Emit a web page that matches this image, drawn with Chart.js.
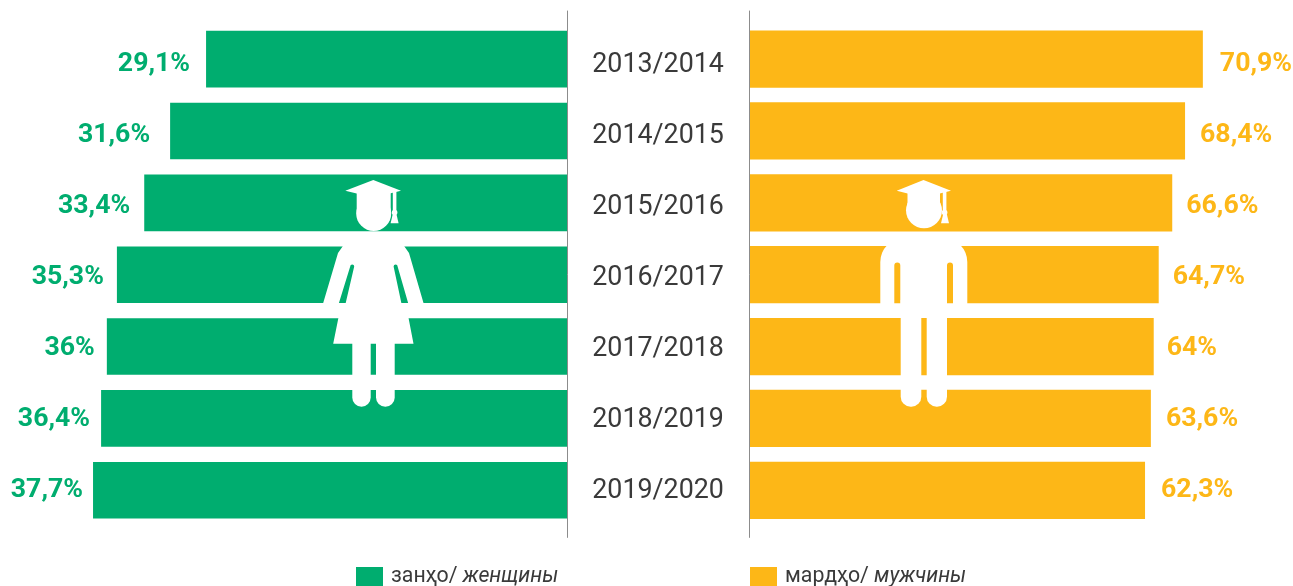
<!DOCTYPE html>
<html><head><meta charset="utf-8">
<script src="https://cdn.jsdelivr.net/npm/chart.js@4"></script>
<style>
html,body{margin:0;padding:0;background:#fff;width:1293px;height:586px;overflow:hidden;position:relative}
canvas{position:absolute;top:0}
.sw{position:absolute;top:567px;width:27px;height:19px}
.lg{position:absolute;top:562px;font:21.3px Roboto,sans-serif;color:#3a3a3a;white-space:nowrap}
.lg i{font-style:italic}
</style></head><body>
<canvas id="L" width="748" height="586" style="left:0"></canvas>
<canvas id="R" width="545" height="586" style="left:748px"></canvas>
<div class="sw" style="left:356px;background:#00AD6F"></div><div class="lg" style="left:391px">занҳо/ <i>женщины</i></div>
<div class="sw" style="left:750px;background:#FDB717"></div><div class="lg" style="left:785px">мардҳо/ <i>мужчины</i></div>
<script>
const years = ["2013/2014","2014/2015","2015/2016","2016/2017","2017/2018","2018/2019","2019/2020"];
const womenLabels = ["29,1%","31,6%","33,4%","35,3%","36%","36,4%","37,7%"];
const menLabels = ["70,9%","68,4%","66,6%","64,7%","64%","63,6%","62,3%"];
// Bar lengths as drawn in the reference. The last row's bars are drawn shorter
// (women) and longer (men) than their printed labels, so lengths and labels are kept apart.
const womenBars = [29.1,31.6,33.4,35.3,36,36.4,36.96];
const menBars = [70.9,68.4,66.6,64.7,64,63.6,62.78];
const GREEN="#00AD6F", YELLOW="#FDB717", FONT="Roboto, sans-serif";
// The reference's texts are hand-placed: rows run a little tighter than the bars,
// and the gap between a bar and its label varies.
const rowShift = i => 5.9 - 0.8*i;
const womenGaps = [16,20,14,13,12,11,10];
const menGaps = [17,15,14,14,13,15,16];

function axisLine(ctx,x,a){ctx.save();ctx.strokeStyle="#8c8c8c";ctx.lineWidth=1;ctx.beginPath();ctx.moveTo(x,a.top-12.6);ctx.lineTo(x,a.bottom+11.6);ctx.stroke();ctx.restore();}
function valueLabels(chart,texts,gaps,color,side){
  const c=chart.ctx;c.save();c.fillStyle=color;c.font="bold 26.7px "+FONT;c.textBaseline="middle";c.textAlign=side<0?"right":"left";
  chart.getDatasetMeta(0).data.forEach((b,i)=>c.fillText(texts[i],b.x+side*gaps[i],b.y+rowShift(i)-1));c.restore();
}
function drawCap(c,cx,l,r,strX,tasX,headL,headR){
  c.beginPath();c.moveTo(cx,180);c.lineTo(r,190.7);c.lineTo(cx,197.5);c.lineTo(l,190.7);c.closePath();c.fill();
  c.fillRect(strX,190,3.6,23);
  c.beginPath();c.arc(strX+1.8,212.5,2.8,0,7);c.fill();
  c.beginPath();c.moveTo(tasX-1.8,214);c.lineTo(tasX+1.8,214);c.lineTo(tasX+4,223.3);c.lineTo(tasX-4,223.3);c.closePath();c.fill();
  c.fillRect(headL,193,headR-headL,20);
}
const womanIcon={id:"w",afterDatasetsDraw(ch){
  const c=ch.ctx;c.save();c.fillStyle="#fff";
  drawCap(c,373.3,345.3,401,392.8,394.6,356.7,390.7);
  c.beginPath();c.arc(373.7,213.5,17.5,0,7);c.fill();
  c.beginPath();
  c.moveTo(345,243);c.lineTo(402,243);c.lineTo(409,253);c.lineTo(423.5,303);c.lineTo(426,310);c.lineTo(407,310);
  c.lineTo(413.5,343.7);c.lineTo(333.2,343.7);c.lineTo(340,310);c.lineTo(321,310);c.lineTo(323.2,303);c.lineTo(338,253);c.closePath();
  c.moveTo(350.2,266.5);c.arc(352.2,266.5,2,Math.PI,0);c.lineTo(345,306);c.lineTo(338,306);c.closePath();
  c.moveTo(393.6,266.5);c.arc(395.6,266.5,2,Math.PI,0);c.lineTo(409,306);c.lineTo(402,306);c.closePath();
  c.fill("evenodd");
  c.beginPath();c.roundRect(352.3,335,18.4,71.7,[0,0,9.2,9.2]);c.fill();
  c.beginPath();c.roundRect(376,335,18.7,71.7,[0,0,9.3,9.3]);c.fill();
  c.restore();
}};
const manIcon={id:"m",afterDatasetsDraw(ch){
  const c=ch.ctx;c.save();c.translate(-748,0);c.fillStyle="#fff";
  drawCap(c,923.5,896.7,951,942.8,945,907.5,940);
  c.beginPath();c.arc(924,210.3,18,0,7);c.fill();
  c.beginPath();c.roundRect(880.3,238,87,72,[24,24,0,0]);
  c.moveTo(894.3,265.5);c.arc(897.3,265.5,3,Math.PI,0);c.lineTo(900.3,308);c.lineTo(894.3,308);c.closePath();
  c.moveTo(947,265.5);c.arc(950,265.5,3,Math.PI,0);c.lineTo(953,308);c.lineTo(947,308);c.closePath();
  c.fill("evenodd");
  c.fillRect(900.7,300,46.3,18);
  c.beginPath();c.roundRect(900.7,310,20.6,96.7,[0,0,10,10]);c.fill();
  c.beginPath();c.roundRect(926.7,310,20.3,96.7,[0,0,10,10]);c.fill();
  c.restore();
}};

new Chart(document.getElementById("L"),{type:"bar",
  data:{labels:years,datasets:[{data:womenBars,backgroundColor:GREEN,categoryPercentage:1,barPercentage:0.797}]},
  options:{indexAxis:"y",responsive:false,animation:false,
    layout:{padding:{top:23.2,bottom:59.8,left:0,right:0}},
    plugins:{legend:{display:false},tooltip:{enabled:false}},
    scales:{
      x:{display:false,reverse:true,min:4,max:43.43,grid:{display:false}},
      y:{position:"right",grid:{display:false,tickLength:25.3},border:{display:false},
         afterFit(s){s.width=181;},
         afterBuildTicks(s){const base=s.constructor.prototype.getPixelForTick;s.getPixelForTick=function(i){return base.call(this,i)+rowShift(i);};},
         ticks:{color:"#3a3a3a",font:{family:FONT,size:26.8},padding:0,crossAlign:"center"}}
    }},
  plugins:[womanIcon,{id:"a",afterDraw(ch){axisLine(ch.ctx,567.5,ch.chartArea);valueLabels(ch,womenLabels,womenGaps,GREEN,-1);}}]
});
new Chart(document.getElementById("R"),{type:"bar",
  data:{labels:years,datasets:[{data:menBars,backgroundColor:YELLOW,categoryPercentage:1,barPercentage:0.797}]},
  options:{indexAxis:"y",responsive:false,animation:false,
    layout:{padding:{top:23.2,bottom:59.8,left:2,right:0}},
    plugins:{legend:{display:false},tooltip:{enabled:false}},
    scales:{
      x:{display:false,min:7.3,max:83.56,grid:{display:false}},
      y:{display:false}
    }},
  plugins:[manIcon,{id:"a",afterDraw(ch){axisLine(ch.ctx,1.5,ch.chartArea);valueLabels(ch,menLabels,menGaps,YELLOW,1);}}]
});
</script>
</body></html>
